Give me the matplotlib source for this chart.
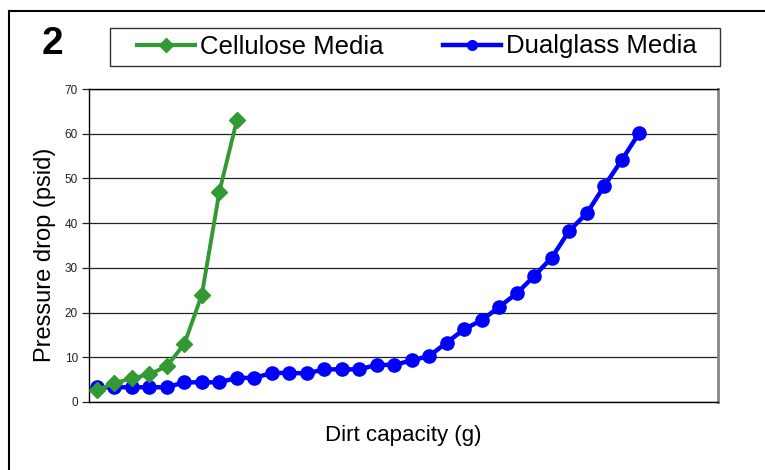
import matplotlib
matplotlib.use("Agg")
import matplotlib.pyplot as plt
from matplotlib.lines import Line2D
from matplotlib.patches import Rectangle

plt.rcParams['font.family'] = ['Liberation Sans', 'DejaVu Sans']

cellulose_label = "Cellulose Media"
dualglass_label = "Dualglass Media"
cellulose = [2.7, 4.2, 5.3, 6.2, 8.0, 13.0, 24.0, 47.0, 63.0]
dualglass = [3.3, 3.3, 3.3, 3.3, 3.3, 4.4, 4.4, 4.4, 5.4, 5.4, 6.5, 6.5, 6.4, 7.3,
             7.3, 7.3, 8.3, 8.3, 9.3, 10.3, 13.3, 16.3, 18.3, 21.3, 24.3, 28.2,
             32.3, 38.3, 42.2, 48.3, 54.1, 60.2]
yticks = [0, 10, 20, 30, 40, 50, 60, 70]

fig = plt.figure(figsize=(7.65, 4.70), dpi=100)
W, H = 765, 470
ax = fig.add_axes([89 / W, 1 - 402 / H, (718 - 89) / W, (402 - 89) / H])

green = '#339933'
blue = '#0000FF'
ax.plot(range(len(dualglass)), dualglass, color=blue, lw=3.2, marker='o',
        markersize=9.5, zorder=3, label=dualglass_label)
ax.plot(range(len(cellulose)), cellulose, color=green, lw=2.8, marker='D',
        markersize=8, zorder=4, label=cellulose_label)

ax.set_xlim(-0.45, 35.5)
ax.set_ylim(0, 70)
ax.set_yticks(yticks)
ax.set_xticks([])
ax.yaxis.grid(True, color='#222222', lw=0.9)
ax.set_axisbelow(True)
ax.tick_params(axis='y', length=5, width=0.9, labelsize=8.5, colors='#222222',
               pad=3)
for s in ['left', 'bottom', 'top']:
    ax.spines[s].set_color('black')
    ax.spines[s].set_linewidth(1.0)
ax.spines['right'].set_color('#888888')
ax.spines['right'].set_linewidth(2.0)

ax.set_ylabel("Pressure drop (psid)", fontsize=17)
ax.yaxis.set_label_coords(-0.052, 0.47)
ax.set_xlabel("Dirt capacity (g)", fontsize=16)
ax.xaxis.set_label_coords(0.5, -0.075)

# legend
h_c = Line2D([], [], color=green, lw=3.0, marker='D', markersize=7)
h_d = Line2D([], [], color=blue, lw=3.2, marker='o', markersize=7)
leg = fig.legend([h_c, h_d], [cellulose_label, dualglass_label],
                 loc='center', bbox_to_anchor=(416.7 / W, 1 - 46.5 / H), ncol=2,
                 fontsize=18.5, frameon=False, handlelength=2.26,
                 columnspacing=2.3, handletextpad=0.2, borderpad=0.0)
fig.add_artist(Rectangle((109.5 / W, 1 - 66 / H), (720 - 109.5) / W,
                         (66 - 28.3) / H, transform=fig.transFigure,
                         fill=False, edgecolor='#333333', lw=1.0))

fig.text(52.5 / W, 1 - 44 / H, "2", fontsize=28, fontweight='bold',
         ha='center', va='center')

# outer frame
fig.add_artist(Line2D([9 / W, 9 / W], [0, 1 - 11 / H], color='black', lw=1.5,
                      transform=fig.transFigure))
fig.add_artist(Line2D([9 / W, 1], [1 - 11 / H, 1 - 11 / H], color='black',
                      lw=1.5, transform=fig.transFigure))

fig.savefig("out.png", dpi=100)
